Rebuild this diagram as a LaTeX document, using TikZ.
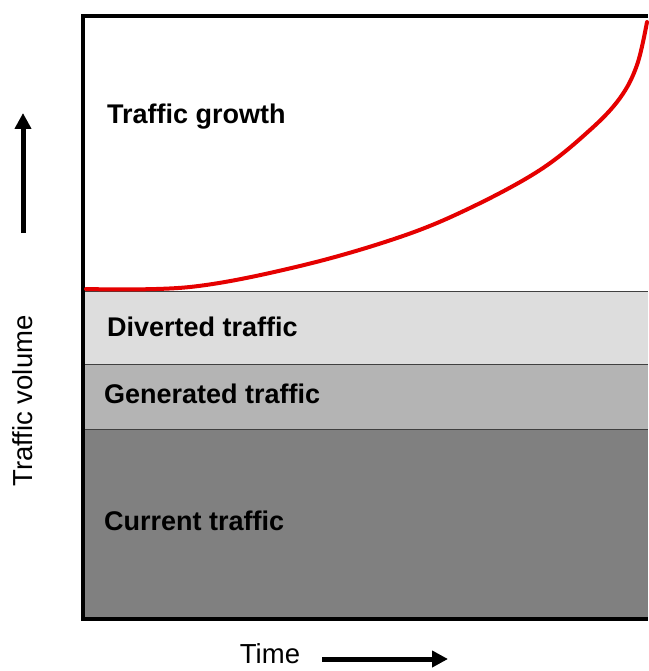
\documentclass[tikz,border=0pt]{standalone}
\usepackage{fontspec}
\setmainfont{Liberation Sans}
\usetikzlibrary{arrows.meta}
\definecolor{diverted}{RGB}{221,221,221}
\definecolor{generated}{RGB}{180,180,180}
\definecolor{current}{RGB}{128,128,128}
\begin{document}
\begin{tikzpicture}[x=1pt,y=-1pt,
  band/.style={draw=black!75,line width=1pt},
  label/.style={anchor=west,inner sep=0pt,font=\fontsize{27}{30}\selectfont\bfseries},
  axis/.style={inner sep=0pt,font=\fontsize{27.5}{30}\selectfont},
  bigarrow/.style={line width=5pt,-{Triangle[length=16pt,width=16pt]}}]
\useasboundingbox (0,0) rectangle (648,671);
\fill[white] (0,0) rectangle (648,671);
% bands
\fill[diverted] (83,291) rectangle (648,364);
\fill[generated] (83,364) rectangle (648,429);
\fill[current] (83,429) rectangle (648,619);
\draw[band] (83,291) -- (648,291);
\draw[band] (83,364) -- (648,364);
\draw[band] (83,429) -- (648,429);
% frame
\draw[line width=4pt] (648,16) -- (83,16) -- (83,619) -- (648,619);
% growth curve
\draw[red!90!black,line width=4pt,line cap=round] plot[smooth,tension=0.6] coordinates {(86,289) (190,287) (300,266) (400,237) (470,208) (540,170) (590,130) (620,98) (637,65) (647,22)};
\node[label] (growth) at (107,117) {Traffic growth};
\node[label] (div) at (107,327) {Diverted traffic};
\node[label] (gen) at (104,394) {Generated traffic};
\node[label] (cur) at (104,521) {Current traffic};
% axes
\node[axis,rotate=90] (vol) at (23,401) {Traffic volume};
\node[axis] (time) at (270,654) {Time};
\coordinate (up0) at (23,233);
\coordinate (up1) at (23,113);
\coordinate (rt0) at (322,659);
\coordinate (rt1) at (448,659);
\draw[bigarrow] (up0) -- (up1);
\draw[bigarrow] (rt0) -- (rt1);
\end{tikzpicture}
\end{document}
